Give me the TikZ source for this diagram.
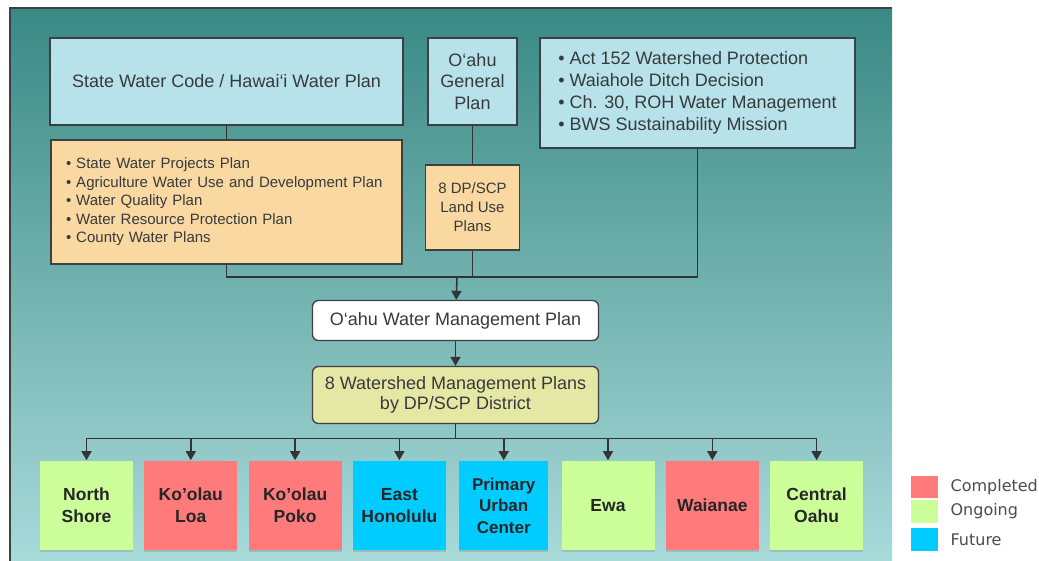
\documentclass[tikz,border=0pt]{standalone}
\usepackage{fontspec}
\setmainfont{Liberation Sans}
\newfontfamily\keyfont{DejaVu Sans}
\usetikzlibrary{arrows.meta,shadows}

\definecolor{panelTop}{RGB}{58,137,132}
\definecolor{panelBottom}{RGB}{168,218,218}
\definecolor{edgegray}{RGB}{60,64,66}
\definecolor{linegray}{RGB}{50,52,54}
\definecolor{textgray}{RGB}{55,58,60}
\definecolor{skyblue}{RGB}{183,226,234}
\definecolor{peach}{RGB}{250,216,162}
\definecolor{paleolive}{RGB}{229,232,164}
\definecolor{done}{RGB}{255,122,122}
\definecolor{ongoing}{RGB}{204,255,153}
\definecolor{future}{RGB}{0,204,255}

\begin{document}
\begin{tikzpicture}[
        x = 1pt, y = 1pt, % one unit per pixel
        > = {Triangle[width=10pt,length=9pt]}, % arrow head style
        line width = 1.6pt, % line style
        node distance = 104.3pt, % distance between district boxes
        inner sep = 0pt
      ]

      \tikzstyle{plan}=[rectangle,draw=edgegray,line width=1.3pt,fill=skyblue,text=textgray,align=center,font=\fontsize{18}{21.5}\selectfont]
      \tikzstyle{sub}=[plan,fill=peach,font=\fontsize{15}{18.5}\selectfont]
      \tikzstyle{result}=[plan,rounded corners=6pt,minimum width=286pt]
      \tikzstyle{district}=[rectangle,minimum width=93pt,minimum height=89pt,text=black!85,align=center,font=\bfseries\fontsize{17.5}{22}\selectfont,drop shadow={shadow xshift=0pt,shadow yshift=-2pt,opacity=0.3}]
      \tikzstyle{link}=[draw=linegray]
      \tikzstyle{key}=[rectangle,minimum width=27pt,minimum height=22.5pt]
      \tikzstyle{keytext}=[anchor=west,text=black!70,font=\keyfont\fontsize{16}{18}\selectfont]

      \useasboundingbox (0,0) rectangle (1039,-560);
      \shade[top color=panelTop,bottom color=panelBottom] (10,-8) rectangle (892,-560);
      \draw[edgegray,line width=1.5pt] (10,-561) -- (10,-8) -- (892,-8);

      % plans above
      \node[plan,minimum width=353pt,minimum height=87pt] (code) at (226.5,-81.5) {State Water Code / Hawai‘i Water Plan};
      \node[plan,minimum width=89pt,minimum height=87pt] (gp) [right of=code, node distance=246pt] {O‘ahu\\General\\Plan};
      \node[plan,minimum width=315pt,minimum height=110pt,align=left,font=\fontsize{18}{22}\selectfont] (act) at (697.5,-93) {\textbullet\ Act 152 Watershed Protection\\\textbullet\ Waiahole Ditch Decision\\\textbullet\ Ch. 30, ROH Water Management\\\textbullet\ BWS Sustainability Mission};
      \node[sub,minimum width=351pt,minimum height=124pt,text width=321pt,align=left] (state) [below of=code, node distance=120.5pt] {\textbullet\ State Water Projects Plan\\\textbullet\ Agriculture Water Use and Development Plan\\\textbullet\ Water Quality Plan\\\textbullet\ Water Resource Protection Plan\\\textbullet\ County Water Plans};
      \node[sub,minimum width=94pt,minimum height=85pt,font=\fontsize{15}{19}\selectfont] (landuse) [below of=gp, node distance=126pt] {8 DP/SCP\\Land Use\\Plans};

      \coordinate (join) at (457,-277);

      % island plans
      \node[result,fill=white,minimum height=40pt] (wmp) at (455.5,-320.5) {O‘ahu Water Management Plan};
      \node[result,fill=paleolive,minimum height=57pt,font=\fontsize{18}{20.5}\selectfont] (wsp) [below of=wmp, node distance=74.5pt] {8 Watershed Management Plans\\by DP/SCP District};

      \coordinate (bus) at (455.5,-438.5);

      % districts
      \node[district,fill=ongoing] (d1) at (86.5,-505.5) {North\\Shore};
      \node[district,fill=done] (d2) [right of=d1] {Ko'olau\\Loa};
      \node[district,fill=done] (d3) [right of=d2] {Ko'olau\\Poko};
      \node[district,fill=future] (d4) [right of=d3] {East\\Honolulu};
      \node[district,fill=future,minimum width=89pt,font=\bfseries\fontsize{17}{21.5}\selectfont] (d5) [right of=d4] {Primary\\Urban\\Center};
      \node[district,fill=ongoing] (d6) [right of=d5] {Ewa};
      \node[district,fill=done] (d7) [right of=d6] {Waianae};
      \node[district,fill=ongoing] (d8) [right of=d7] {Central\\Oahu};

      \path (code) edge[link] (state);
      \path (gp) edge[link] (landuse);
      \draw[link] (state.south) |- (join) -| (act.south);
      \draw[link] (landuse) -- (landuse |- join);
      \draw[link,->] (join) -- (wmp);
      \draw[link,->] (wmp) -- (wsp);
      \draw[link] (wsp) -- (bus);
      \foreach \i in {1,...,8}
        \draw[link,->] (bus) -| (d\i);

      % legend
      \node[key,fill=done] (kdone) at (924.5,-487) {};
      \node[key,fill=ongoing] (kongoing) [below of=kdone, node distance=24.5pt] {};
      \node[key,fill=future] (kfuture) [below of=kongoing, node distance=28pt] {};
      \node[keytext] (tdone) at ([xshift=11pt]kdone.east) {Completed};
      \node[keytext] (tongoing) at ([xshift=11pt]kongoing.east) {Ongoing};
      \node[keytext] (tfuture) at ([xshift=11pt]kfuture.east) {Future};

    \end{tikzpicture}
\end{document}
